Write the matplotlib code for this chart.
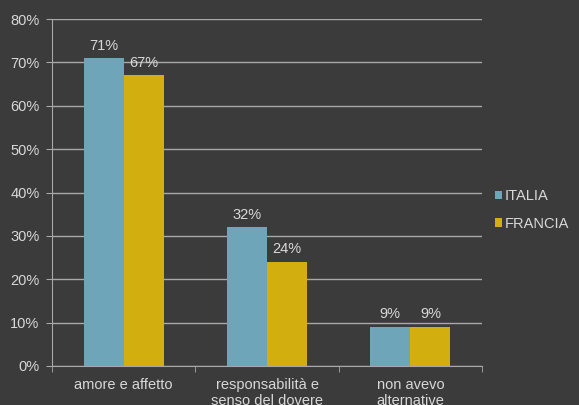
import numpy as np
import matplotlib
matplotlib.use("Agg")
from matplotlib import pyplot as plt

categories = ["amore e affetto", "responsabilità e\nsenso del dovere", "non avevo\nalternative"]
italia = [71, 32, 9]
francia = [67, 24, 9]
series_names = ["ITALIA", "FRANCIA"]

bg = "#3b3b3b"
txt = "#d8d8d8"
c_it = "#6fa5b9"
c_fr = "#d2af0e"

plt.rcParams['font.family'] = ['Liberation Sans', 'DejaVu Sans']

fig = plt.figure(figsize=(5.79, 4.05), dpi=100, facecolor=bg)
ax = fig.add_axes([0.0898, 0.0963, 0.7427, 0.8567], facecolor=bg)

x = np.arange(len(categories))
width = 0.28
b1 = ax.bar(x - width/2, italia, width, color=c_it, label=series_names[0], zorder=3)
b2 = ax.bar(x + width/2, francia, width, color=c_fr, label=series_names[1], zorder=3)
ax.bar_label(b1, labels=[f"{v}%" for v in italia], padding=4, color=txt, fontsize=10.5)
ax.bar_label(b2, labels=[f"{v}%" for v in francia], padding=4, color=txt, fontsize=10.5)

ax.set_ylim(0, 80)
ax.set_xlim(-0.5, 2.5)
ax.set_yticks(range(0, 81, 10))
ax.set_yticklabels([f"{v}%" for v in range(0, 81, 10)])
ax.yaxis.grid(True, color="#a8a8a8", linewidth=1, zorder=0)

ax.set_xticks(x)
ax.set_xticklabels(categories, linespacing=1.1)
ax.set_xticks([-0.5, 0.5, 1.5, 2.5], minor=True)
ax.tick_params(axis='x', which='major', length=0, colors=txt, labelsize=10.5, pad=9)
ax.tick_params(axis='x', which='minor', length=4, color="#a8a8a8")
ax.tick_params(axis='y', length=4, color="#a8a8a8", colors=txt, labelsize=10.5, pad=5)

for s in ["top", "right"]:
    ax.spines[s].set_visible(False)
for s in ["left", "bottom"]:
    ax.spines[s].set_color("#a8a8a8")

leg = ax.legend(loc="center left", bbox_to_anchor=(1.0, 0.45), frameon=False,
                labelcolor=txt, fontsize=10.5, handlelength=0.5, handleheight=0.5,
                handletextpad=0.15, labelspacing=0.95)

fig.savefig("out.png", facecolor=bg)
